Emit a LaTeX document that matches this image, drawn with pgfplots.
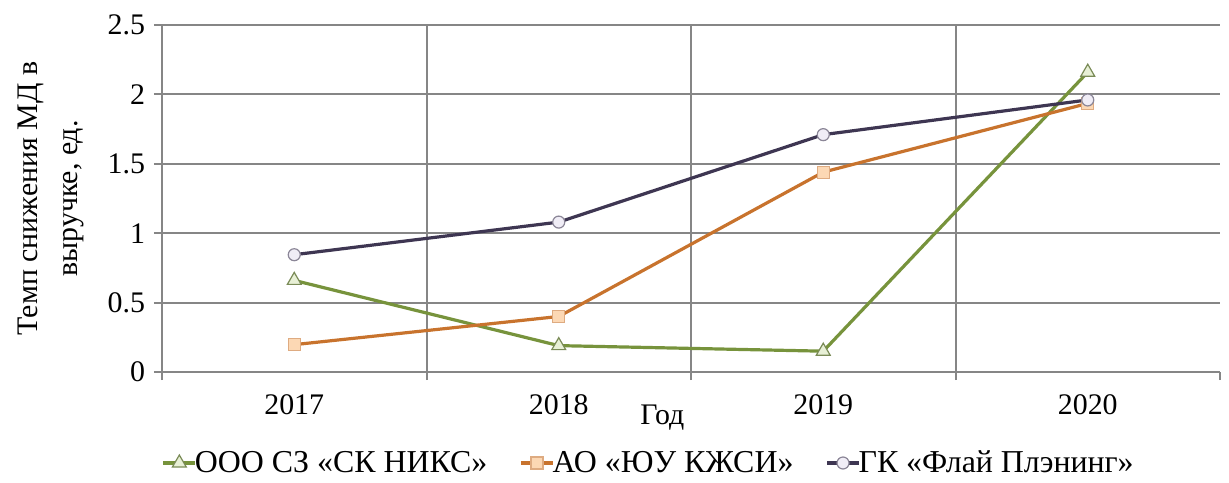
\documentclass[border=0pt]{standalone}
\usepackage{pgfplots}
\pgfplotsset{compat=1.18}
\usepackage{fontspec}
\setmainfont{Liberation Serif}
\usetikzlibrary{calc}
\definecolor{lnGreen}{RGB}{119,147,60}
\definecolor{lnOrange}{RGB}{200,115,45}
\definecolor{lnDark}{RGB}{62,54,82}
\definecolor{fGreen}{RGB}{232,240,214}
\definecolor{fOrange}{RGB}{252,216,180}
\definecolor{fDark}{RGB}{240,237,246}
\definecolor{gridGray}{RGB}{134,134,134}

\begin{document}
\begin{tikzpicture}
\begin{axis}[
  scale only axis, width=529bp, height=173.5bp,
  xmin=-0.5, xmax=3.5, ymin=0, ymax=2.5,
  axis x line=bottom, axis y line=left,
  axis line style={-, gridGray, line width=1bp},
  font=\fontsize{15}{20}\selectfont,
  /pgf/number format/assume math mode=true,
  tick align=outside,
  major tick length=4bp,
  tick style={gridGray, line width=1bp},
  xtick={-0.5,0.5,1.5,2.5,3.5}, xticklabels={},
  minor xtick={0.5,1.5,2.5}, xminorgrids, minor tick length=0pt,
  extra x ticks={0,1,2,3},
  extra x tick labels={2017,2018,2019,2020},
  extra x tick style={major tick length=0pt, grid=none,
    xticklabel style={yshift=-8bp}},
  ytick={0,0.5,1,1.5,2,2.5}, ymajorgrids,
  yticklabel style={xshift=-1bp},
  grid style={gridGray, line width=1bp},
  minor grid style={gridGray, line width=1bp},
  xlabel={Год},
  xlabel style={at={(axis description cs:0.473,0)}, anchor=north, yshift=-13bp},
  ylabel={Темп снижения МД в\\выручке, ед.},
  ylabel style={align=center, at={(axis description cs:0,0.5)}, anchor=south,
    yshift=35.5bp},
  legend columns=3,
  legend style={draw=none, fill=none, at={(axis description cs:0.461,0)},
    anchor=center, yshift=-45.5bp, font=\fontsize{16}{20}\selectfont,
    /tikz/every even column/.append style={column sep=14bp},
    /tikz/every odd column/.append style={column sep=-3bp},
    inner sep=0pt},
  legend image code/.code={%
    \draw[mark repeat=2, mark phase=2] plot coordinates {(0bp,0bp) (8bp,0bp) (16bp,0bp)};},
  every axis plot/.append style={line width=1.6bp},
  clip=false,
]
\coordinate (bl) at (rel axis cs:0,0);
\coordinate (tr) at (rel axis cs:1,1);
\addplot[lnGreen, mark=triangle*, mark size=4bp,
  mark options={solid, fill=fGreen, draw=lnGreen!60!gray, line width=0.6bp}]
  coordinates {(0,0.66) (1,0.19) (2,0.15) (3,2.16)};
\addplot[lnOrange, mark=square*, mark size=3bp,
  mark options={solid, fill=fOrange, draw=lnOrange!60!white, line width=0.6bp}]
  coordinates {(0,0.197) (1,0.40) (2,1.44) (3,1.935)};
\addplot[lnDark, mark=*, mark size=3bp,
  mark options={solid, fill=fDark, draw=lnDark!60!white, line width=0.6bp}]
  coordinates {(0,0.845) (1,1.08) (2,1.71) (3,1.96)};
\legend{ООО СЗ «СК НИКС», АО «ЮУ КЖСИ», ГК «Флай Плэнинг»}
\end{axis}
\pgfresetboundingbox
\path ($(bl)+(-81bp,-55.5bp)$) rectangle ($(tr)+(4.5bp,12.5bp)$);
\end{tikzpicture}
\end{document}
